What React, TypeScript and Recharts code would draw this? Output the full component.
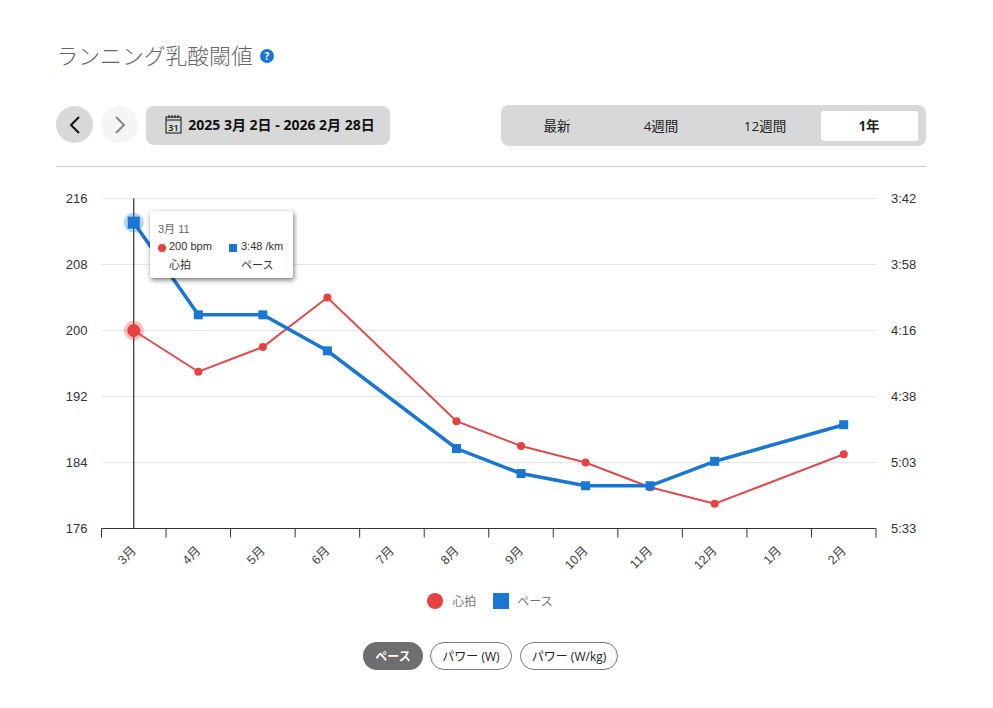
import React from 'react';
import { LineChart, Line, XAxis, YAxis, CartesianGrid, Tooltip, Legend } from 'recharts';

const months = ['3月', '4月', '5月', '6月', '7月', '8月', '9月', '10月', '11月', '12月', '1月', '2月'];
const heartRate = [200, 195, 198, 204, null, 189, 186, 184, 181, 179, null, 185];
// pace is plotted as speed (km/h), that is why the right axis is not evenly spaced in min/km
const paceSpeed = [15.82, 14.31, 14.31, 13.72, null, 12.12, 11.71, 11.51, 11.51, 11.91, null, 12.51];
const hrTicks = [176, 184, 192, 200, 208, 216];
const paceTicks = [10.81, 11.891, 12.972, 14.053, 15.134, 16.215];
const paceLabels = ['5:33', '5:03', '4:38', '4:16', '3:58', '3:42'];
const ranges = ['最新', '4週間', '12週間', '1年'];
const metrics = ['ペース', 'パワー (W)', 'パワー (W/kg)'];

const RED = '#e94040';
const BLUE = '#1976d2';
const GREY = '#d8d8d8';
const FONT = '"Open Sans", "Noto Sans CJK JP", sans-serif';
const AXIS_FONT = '"Liberation Sans", "Noto Sans CJK JP", sans-serif';

const data = months.map((month, i) => ({ month, hr: heartRate[i], pace: paceSpeed[i] }));

function MonthTick(props: any) {
  const { x, y, payload, index } = props;
  const half = payload.offset ?? 0;
  return (
    <g>
      <line x1={x - half} x2={x - half} y1={y - 8} y2={y + 1} stroke="#333" />
      {index === months.length - 1 && <line x1={x + half} x2={x + half} y1={y - 8} y2={y + 1} stroke="#333" />}
      <text x={x + 3} y={y + 15} textAnchor="end" fontSize={12.5} fill="#444" fontFamily={AXIS_FONT} transform={`rotate(-45 ${x + 3} ${y + 15})`}>
        {payload.value}
      </text>
    </g>
  );
}

function SquareDot(props: any) {
  const { cx, cy, index } = props;
  if (cy == null) return <g key={index} />;
  return <rect key={index} x={cx - 4.5} y={cy - 4.5} width={9} height={9} fill={BLUE} />;
}

function ActiveSquare(props: any) {
  const { cx, cy } = props;
  return (
    <g>
      <circle cx={cx} cy={cy} r={10} fill={BLUE} opacity={0.3} />
      <rect x={cx - 6} y={cy - 6} width={12} height={12} fill={BLUE} />
    </g>
  );
}

function ActiveCircle(props: any) {
  const { cx, cy } = props;
  return (
    <g>
      <circle cx={cx} cy={cy} r={10} fill={RED} opacity={0.3} />
      <circle cx={cx} cy={cy} r={6.5} fill={RED} />
    </g>
  );
}

function TooltipBox() {
  return (
    <div style={{ width: 143, height: 67, boxSizing: 'border-box', background: '#fff', borderRadius: 2, boxShadow: '1px 2px 5px rgba(0,0,0,.55)', fontFamily: AXIS_FONT, fontSize: 11, color: '#333', position: 'relative' }}>
      <div style={{ position: 'absolute', left: 8, top: 9, color: '#666' }}>3月 11</div>
      <span style={{ position: 'absolute', left: 8, top: 33, width: 8, height: 8, borderRadius: '50%', background: RED }} />
      <div style={{ position: 'absolute', left: 19, top: 29 }}>200 bpm</div>
      <div style={{ position: 'absolute', left: 19, top: 45 }}>心拍</div>
      <span style={{ position: 'absolute', left: 79, top: 33, width: 8, height: 8, background: BLUE }} />
      <div style={{ position: 'absolute', left: 91, top: 29 }}>3:48 /km</div>
      <div style={{ position: 'absolute', left: 91, top: 45 }}>ペース</div>
    </div>
  );
}

function LegendRow() {
  return (
    <div style={{ display: 'flex', justifyContent: 'center', alignItems: 'center', fontFamily: FONT, fontSize: 12, color: '#777' }}>
      <span style={{ width: 16, height: 16, borderRadius: '50%', background: RED, marginRight: 9 }} />
      <span style={{ marginRight: 17 }}>心拍</span>
      <span style={{ width: 16, height: 16, background: BLUE, marginRight: 8 }} />
      <span>ペース</span>
    </div>
  );
}

const box = (left: number, top: number, width: number, height: number, extra: React.CSSProperties = {}): React.CSSProperties => ({
  position: 'absolute', left, top, width, height, display: 'flex', alignItems: 'center', justifyContent: 'center', boxSizing: 'border-box', ...extra,
});

function Chevron({ dir, color }: { dir: 'left' | 'right'; color: string }) {
  return (
    <svg width="14" height="20" viewBox="0 0 14 20">
      <path d={dir === 'left' ? 'M11 2 L3 10 L11 18' : 'M3 2 L11 10 L3 18'} fill="none" stroke={color} strokeWidth="2" />
    </svg>
  );
}

function CalendarIcon() {
  return (
    <svg width="17" height="20" viewBox="0 0 17 20">
      <rect x="1" y="3" width="15" height="16" fill="none" stroke="#111" />
      <line x1="1" y1="6" x2="16" y2="6" stroke="#111" />
      <path d="M4 1v3M7 1v3M10 1v3M13 1v3" stroke="#111" />
      <text x="8.5" y="16.5" fontSize="9" textAnchor="middle" fill="#111" fontFamily={FONT} fontWeight="600">31</text>
    </svg>
  );
}

export default function App() {
  const rangeCenters = [557, 661, 765, 869];
  const pills = [[363, 60], [430, 82], [520, 98]];
  return (
    <div style={{ position: 'absolute', left: 0, top: 0, width: 993, height: 708, background: '#fff', fontFamily: FONT, overflow: 'hidden' }}>
      <div style={{ position: 'absolute', left: 56.5, top: 39, fontSize: 21.8, fontWeight: 300, color: '#666', whiteSpace: 'nowrap', fontFamily: '"Noto Sans CJK JP", sans-serif' }}>ランニング乳酸閾値</div>
      <div style={box(260, 49, 14, 14, { borderRadius: '50%', background: BLUE, color: '#fff', fontSize: 10, fontWeight: 700 })}>?</div>

      <div style={box(56, 106, 37, 37, { borderRadius: '50%', background: GREY })}><Chevron dir="left" color="#111" /></div>
      <div style={box(101, 106, 37, 37, { borderRadius: '50%', background: '#f5f5f5' })}><Chevron dir="right" color="#888" /></div>
      <div style={box(146, 106, 244, 39, { borderRadius: 8, background: GREY })} />
      <div style={box(148, 104, 244, 39, { fontSize: 14, fontWeight: 700, color: '#111', whiteSpace: 'nowrap' })}>
        <CalendarIcon /><span style={{ marginLeft: 6 }}>2025 3月 2日 - 2026 2月 28日</span>
      </div>

      <div style={box(501, 105, 425, 41, { borderRadius: 8, background: GREY })} />
      <div style={box(821, 111, 97, 30, { borderRadius: 3, background: '#fff' })} />
      {ranges.map((r, i) => (
        <div key={r} style={box(rangeCenters[i] - 45, 110, 90, 30, { fontSize: 13.5, color: '#222', fontWeight: i === 3 ? 700 : 400 })}>{r}</div>
      ))}
      <div style={{ position: 'absolute', left: 56, top: 166, width: 870, height: 1, background: '#ccc' }} />

      <div style={{ position: 'absolute', left: 0, top: 0 }}>
        <LineChart width={993} height={630} data={data} margin={{ top: 198.5, right: 57, bottom: 23.5, left: 41.5 }}>
          <CartesianGrid vertical={false} stroke="#e6e6e6" yAxisId="hr" />
          <XAxis dataKey="month" scale="band" stroke="#333" tick={<MonthTick />} tickLine={false} interval={0} height={60} xAxisId={0} />
          <YAxis yAxisId="hr" domain={[176, 216]} ticks={hrTicks} axisLine={false} tickLine={false} width={60} tickMargin={8} interval={0}
            tick={{ fontSize: 13, fill: '#333', fontFamily: AXIS_FONT }} />
          <YAxis yAxisId="pace" orientation="right" domain={[paceTicks[0], paceTicks[5]]} ticks={paceTicks} axisLine={false} tickLine={false} width={60} tickMargin={9} interval={0}
            tickFormatter={(v: number) => paceLabels[paceTicks.indexOf(v)]}
            tick={{ fontSize: 13, fill: '#333', fontFamily: AXIS_FONT }} />
          <Tooltip defaultIndex={0} active content={<TooltipBox />} position={{ x: 150, y: 211 }} cursor={{ stroke: '#000', strokeWidth: 1 }} isAnimationActive={false} />
          <Legend content={<LegendRow />} wrapperStyle={{ position: 'absolute', left: 0, top: 592, width: 980, height: 18 }} />
          <Line yAxisId="hr" dataKey="hr" name="心拍" stroke="#e04a4c" strokeWidth={2} connectNulls isAnimationActive={false}
            dot={{ r: 4, fill: RED, stroke: RED, strokeWidth: 0 }} activeDot={<ActiveCircle />} />
          <Line yAxisId="pace" dataKey="pace" name="ペース" stroke={BLUE} strokeWidth={3.5} connectNulls isAnimationActive={false}
            dot={<SquareDot />} activeDot={<ActiveSquare />} />
        </LineChart>
      </div>

      {metrics.map((m, i) => (
        <div key={m} style={box(pills[i][0], 642, pills[i][1], 28, {
          borderRadius: 14, fontSize: 12, whiteSpace: 'nowrap',
          background: i === 0 ? '#6e6e6e' : '#fff', color: i === 0 ? '#fff' : '#222',
          border: i === 0 ? 'none' : '1px solid #777', fontWeight: i === 0 ? 600 : 400,
        })}>{m}</div>
      ))}
    </div>
  );
}
